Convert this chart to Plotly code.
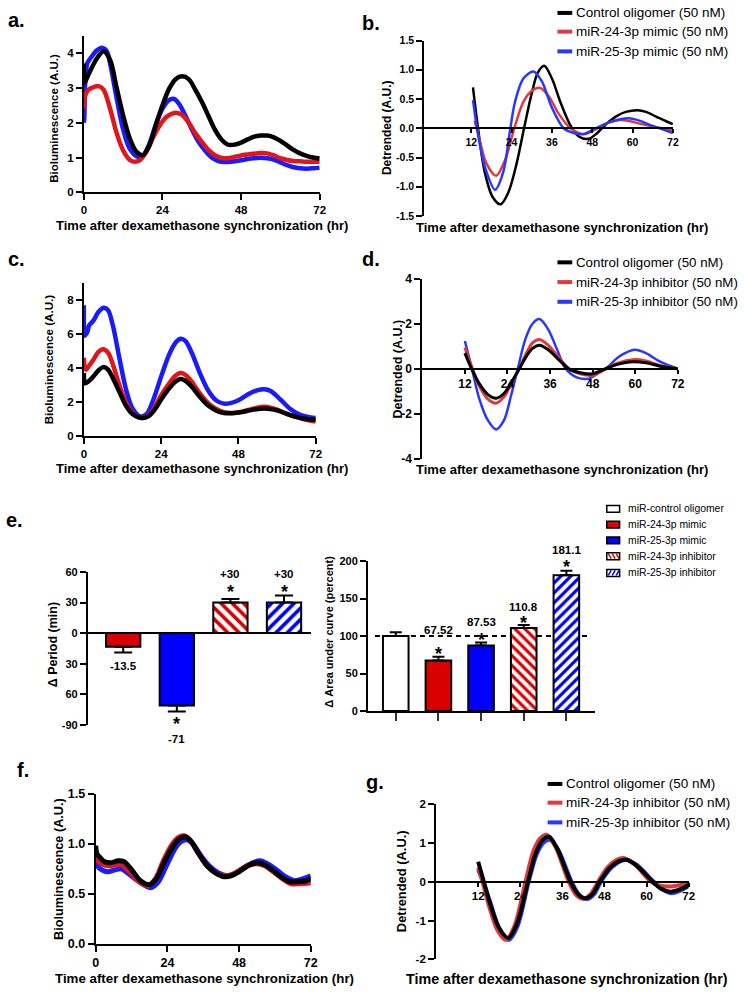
import plotly.graph_objects as go

W, H = 745, 998
FONT = "Arial, 'Liberation Sans', Helvetica, sans-serif"

BLACK = "#000000"
RED = "#E0161B"
BLUE = "#1A1AFF"
RED_D = "#E0383B"
BLUE_D = "#2638FF"
BAR_RED = "#D80000"
BAR_BLUE = "#0000FF"

# ---------------- data ----------------
x_title = "Time after dexamethasone synchronization (hr)"
biolum_title = "Bioluminescence (A.U.)"
detr_title = "Detrended (A.U.)"

legend_mimic = ["Control oligomer (50 nM)", "miR-24-3p mimic (50 nM)", "miR-25-3p mimic (50 nM)"]
legend_inhib = ["Control oligomer (50 nM)", "miR-24-3p inhibitor (50 nM)", "miR-25-3p inhibitor (50 nM)"]

# Panel a : bioluminescence, mimics
a_ctrl_t = [0, 0.2, 1, 2, 4, 6, 8, 10, 12, 14, 16, 18, 20, 22, 24, 26, 28, 30, 32, 34, 36, 38, 40, 42, 44, 46, 48, 50, 52, 54, 56, 58, 60, 62, 64, 66, 68, 70, 72]
a_ctrl_y = [3.7, 3.15, 3.3, 3.5, 3.85, 4.05, 3.8, 3.0, 2.2, 1.55, 1.17, 1.07, 1.35, 1.95, 2.5, 2.97, 3.25, 3.33, 3.25, 2.95, 2.6, 2.2, 1.8, 1.52, 1.37, 1.37, 1.43, 1.52, 1.6, 1.63, 1.63, 1.58, 1.48, 1.35, 1.22, 1.12, 1.05, 1.0, 0.97]
a_m24_t = [0, 0.3, 0.7, 1.5, 3, 4.5, 6, 8, 10, 12, 14, 15.5, 17, 19, 21, 23, 25, 27, 28.5, 30, 32, 34, 36, 38, 40, 42, 44, 46, 48, 51, 54, 56, 58, 60, 62, 64, 66, 68, 70, 72]
a_m24_y = [2.4, 2.75, 2.85, 2.95, 3.02, 3.05, 2.95, 2.4, 1.7, 1.2, 0.93, 0.88, 0.92, 1.15, 1.55, 1.9, 2.15, 2.26, 2.28, 2.22, 2.0, 1.7, 1.45, 1.22, 1.07, 0.99, 0.98, 1.02, 1.06, 1.1, 1.13, 1.12, 1.06, 0.98, 0.93, 0.9, 0.89, 0.88, 0.88, 0.88]
a_m25_t = [0, 0.15, 0.3, 0.6, 1, 2, 4, 5.5, 7, 8, 10, 12, 14, 16.5, 18, 20, 22, 24, 26, 27.5, 29, 31, 33, 35, 37, 39, 41, 43, 45, 48, 51, 54, 56, 58, 60, 62, 64, 66, 68, 70, 72]
a_m25_y = [2.0, 2.2, 3.0, 3.3, 3.7, 3.85, 4.08, 4.15, 4.05, 3.7, 2.7, 1.8, 1.25, 1.02, 1.05, 1.4, 1.95, 2.4, 2.65, 2.68, 2.55, 2.2, 1.8, 1.45, 1.2, 1.0, 0.9, 0.87, 0.88, 0.92, 0.97, 0.99, 0.98, 0.94, 0.86, 0.78, 0.72, 0.69, 0.68, 0.69, 0.71]

# Panel b : detrended, mimics
b_ctrl_t = [12.5, 14, 16, 18.3, 20.7, 23, 25.5, 27.7, 30, 31.8, 33.7, 36, 38.5, 41.5, 44, 46.9, 49.5, 52.3, 55, 58, 61.5, 64, 67, 70, 72]
b_ctrl_y = [0.70, 0.0, -0.75, -1.17, -1.30, -1.10, -0.6, 0.0, 0.6, 0.95, 1.07, 0.85, 0.45, 0.05, -0.14, -0.18, -0.08, 0.08, 0.2, 0.28, 0.31, 0.28, 0.2, 0.12, 0.07]
b_m24_t = [13, 14.5, 16.5, 19.4, 22, 24.8, 27.5, 30, 32.5, 35, 38, 41.5, 45.4, 49, 52, 56, 58.5, 62, 66, 72]
b_m24_y = [0.13, -0.2, -0.6, -0.81, -0.55, 0.0, 0.45, 0.64, 0.69, 0.55, 0.25, 0.0, -0.1, -0.02, 0.08, 0.14, 0.13, 0.08, 0.03, -0.04]
b_m25_t = [12.5, 14, 16, 19.1, 21.5, 23.5, 25, 27.5, 30.5, 33, 36, 39.5, 42.5, 45.5, 49, 53, 56, 59, 62, 66, 72]
b_m25_y = [0.48, -0.1, -0.65, -1.05, -0.75, -0.05, 0.45, 0.85, 0.97, 0.8, 0.35, 0.0, -0.08, -0.1, 0.0, 0.1, 0.15, 0.17, 0.13, 0.04, -0.08]

# Panel c : bioluminescence, inhibitors
c_ctrl_t = [0, 0.3, 1, 2.5, 4.5, 6, 7.5, 9, 11, 13, 15, 18, 20, 22, 24, 26.5, 28.5, 30, 31.5, 33.5, 36, 38.5, 41, 43.5, 46, 49, 52, 55, 57, 60, 63, 66, 69, 72]
c_ctrl_y = [3.7, 3.1, 3.15, 3.4, 3.85, 4.05, 3.9, 3.4, 2.6, 1.8, 1.3, 1.05, 1.15, 1.55, 2.15, 2.8, 3.2, 3.35, 3.25, 2.9, 2.3, 1.8, 1.5, 1.35, 1.33, 1.4, 1.52, 1.6, 1.6, 1.5, 1.3, 1.12, 1.0, 0.95]
c_i24_t = [0, 0.3, 0.7, 1.5, 3, 4.5, 6, 7.5, 9, 11, 13, 15, 18, 20, 22, 24, 26.5, 28.5, 30, 31.5, 33.5, 36, 38.5, 41, 43.5, 46, 49, 52, 55, 57, 60, 63, 66, 69, 72]
c_i24_y = [4.6, 4.0, 3.9, 4.1, 4.5, 4.95, 5.1, 4.9, 4.2, 3.0, 2.0, 1.35, 1.05, 1.2, 1.7, 2.4, 3.1, 3.55, 3.7, 3.6, 3.2, 2.5, 1.95, 1.6, 1.4, 1.35, 1.42, 1.58, 1.7, 1.7, 1.55, 1.3, 1.1, 0.95, 0.85]
c_i25_t = [0, 0.3, 0.7, 1.2, 1.6, 3, 4.5, 6.2, 7.5, 9, 11, 13, 15, 17.5, 19.5, 21.5, 24, 26.5, 28.5, 30, 31.5, 33.5, 36, 38.5, 41, 43.5, 45.5, 48, 51, 54, 56, 58, 61, 64, 67, 70, 72]
c_i25_y = [7.7, 5.9, 6.0, 6.2, 6.5, 6.8, 7.3, 7.55, 7.4, 6.5, 4.6, 2.8, 1.65, 1.15, 1.3, 2.1, 3.5, 4.8, 5.5, 5.72, 5.6, 4.9, 3.7, 2.7, 2.1, 1.9, 1.93, 2.1, 2.45, 2.7, 2.75, 2.65, 2.15, 1.6, 1.25, 1.1, 1.05]

# Panel d : detrended, inhibitors
d_ctrl_t = [12, 13.9, 16, 18.5, 20.8, 23, 25.3, 27.3, 29.5, 31, 33, 35.5, 38.5, 41.3, 44.5, 48, 51.5, 55, 59.4, 63, 67, 72]
d_ctrl_y = [0.70, 0.0, -0.65, -1.15, -1.31, -1.1, -0.55, 0.0, 0.6, 0.9, 1.05, 0.85, 0.4, 0.0, -0.17, -0.22, 0.0, 0.2, 0.32, 0.27, 0.12, 0.0]
d_i24_t = [12, 13.9, 16, 18.5, 20.8, 23, 25.3, 27.3, 29.5, 31, 33, 35.5, 38.5, 41.3, 44.5, 48, 51.5, 55, 59.4, 63, 67, 72]
d_i24_y = [0.95, 0.1, -0.75, -1.35, -1.53, -1.25, -0.6, 0.0, 0.75, 1.15, 1.31, 1.05, 0.5, 0.0, -0.22, -0.29, -0.02, 0.25, 0.41, 0.35, 0.15, 0.0]
d_i25_t = [12, 14, 16, 18.5, 20.8, 23, 25, 26.9, 29, 31, 33, 35.5, 38, 40.4, 43.5, 46.9, 49.5, 52, 55.5, 59.9, 63, 67, 72]
d_i25_y = [1.24, 0.0, -1.3, -2.3, -2.7, -2.3, -1.2, 0.0, 1.3, 2.0, 2.22, 1.75, 0.85, 0.0, -0.38, -0.44, -0.2, 0.05, 0.55, 0.85, 0.7, 0.32, 0.0]

# Panel e : period change and area under curve
e_groups = ["miR-control oligomer", "miR-24-3p mimic", "miR-25-3p mimic", "miR-24-3p inhibitor", "miR-25-3p inhibitor"]
period_groups = e_groups[1:]
period_vals = [-13.5, -71, 30, 30]
period_err = [5.5, 6, 3.5, 7]
period_text = ["-13.5", "-71", "+30", "+30"]
period_sig = [False, True, True, True]
auc_vals = [100, 67.52, 87.53, 110.8, 181.1]
auc_err = [5, 5, 4, 4, 6]
auc_text = ["", "67.52", "87.53", "110.8", "181.1"]
auc_sig = [False, True, True, True, True]
period_ticks = [-90, -60, -30, 0, 30, 60]
period_ticktext = ["-90", "60", "30", "0", "30", "60"]
auc_ticks = [0, 50, 100, 150, 200]

# Panel f : bioluminescence, inhibitors (second experiment)
f_ctrl_t = [0, 0.4, 1.5, 3, 5, 7.5, 9.5, 12, 15, 18, 20.5, 23, 26, 28, 30, 32, 34.5, 37, 40, 43, 45.5, 48, 51, 54, 56.5, 59, 62, 65, 68, 70.5, 72]
f_ctrl_y = [0.98, 0.9, 0.86, 0.82, 0.81, 0.83, 0.82, 0.74, 0.63, 0.59, 0.66, 0.82, 0.98, 1.05, 1.07, 1.02, 0.9, 0.79, 0.71, 0.67, 0.68, 0.72, 0.78, 0.81, 0.79, 0.74, 0.67, 0.62, 0.62, 0.63, 0.65]
f_i24_t = [0, 0.5, 2, 4, 6.5, 8.5, 11, 14.5, 17.5, 20, 22.5, 25.5, 27.5, 29.5, 31.5, 34, 37, 40, 43, 45.5, 48.5, 51.5, 54, 56.5, 59.5, 62.5, 65.5, 68.5, 72]
f_i24_y = [0.93, 0.84, 0.8, 0.78, 0.79, 0.79, 0.73, 0.62, 0.58, 0.65, 0.82, 0.99, 1.06, 1.08, 1.04, 0.92, 0.79, 0.71, 0.68, 0.69, 0.74, 0.79, 0.8, 0.78, 0.72, 0.65, 0.6, 0.6, 0.61]
f_i25_t = [0, 0.5, 2, 4, 6.5, 8.5, 11, 14.5, 18.5, 21, 23.5, 26.5, 28.5, 30.5, 32.5, 35, 38, 41, 44, 46.5, 49.5, 52.5, 55, 57.5, 60.5, 63.5, 66.5, 69.5, 72]
f_i25_y = [0.85, 0.78, 0.74, 0.72, 0.74, 0.75, 0.7, 0.62, 0.56, 0.62, 0.77, 0.95, 1.02, 1.04, 1.0, 0.89, 0.78, 0.71, 0.68, 0.7, 0.76, 0.81, 0.83, 0.8, 0.74, 0.67, 0.63, 0.65, 0.68]

# Panel g : detrended, inhibitors (second experiment)
g_ctrl_t = [12, 13.6, 15.5, 18, 20.6, 23, 26.2, 28.5, 30.5, 32.2, 34.5, 38.3, 40.5, 42.5, 44.5, 46.7, 49.5, 52, 54.2, 57, 61.7, 64, 66.8, 69.5, 72]
g_ctrl_y = [0.51, 0.0, -0.6, -1.2, -1.45, -1.1, 0.0, 0.75, 1.08, 1.15, 0.85, 0.0, -0.33, -0.43, -0.33, 0.0, 0.35, 0.52, 0.56, 0.42, 0.0, -0.18, -0.26, -0.2, -0.09]
g_i24_t = [12, 13.2, 15, 17.5, 19.9, 22.3, 25.5, 27.8, 29.8, 31.6, 34, 37.8, 40, 42, 44, 46.2, 49, 51.5, 53.7, 56.5, 61.2, 63.5, 66.4, 69, 72]
g_i24_y = [0.36, 0.0, -0.6, -1.25, -1.5, -1.15, 0.0, 0.8, 1.12, 1.2, 0.9, 0.0, -0.35, -0.44, -0.33, 0.0, 0.38, 0.56, 0.6, 0.45, 0.0, -0.1, -0.13, -0.1, -0.04]
g_i25_t = [12, 13.6, 15.5, 18, 20.7, 23.2, 26.4, 28.7, 30.7, 32.5, 34.8, 38.6, 41, 43, 45, 47, 50, 52.5, 54.6, 57.3, 62, 64.5, 67, 69.5, 72]
g_i25_y = [0.3, -0.05, -0.55, -1.2, -1.5, -1.15, 0.0, 0.7, 1.0, 1.07, 0.82, 0.0, -0.36, -0.45, -0.33, 0.0, 0.36, 0.52, 0.55, 0.42, 0.0, -0.2, -0.3, -0.24, -0.12]

time_ticks = [0, 24, 48, 72]
detr_ticks = [12, 24, 36, 48, 60, 72]

# ---------------- layout helpers ----------------
def xd(l, r):
    return [l / W, r / W]

def yd(top, bottom):
    return [1 - bottom / H, 1 - top / H]

def tfont(size):
    return dict(family=FONT, size=size, color="black", weight="bold")

def fmt(v):
    return str(int(v)) if float(v).is_integer() else str(v)

def fmt1(v):
    return f"{v:.1f}"

def axis(dom, rng, tickvals, size, ticktext=None, **kw):
    d = dict(domain=dom, range=rng, showline=True, linecolor="black", linewidth=2,
             ticks="outside", ticklen=6, tickwidth=2, tickcolor="black",
             showgrid=False, zeroline=False, tickfont=tfont(size),
             tickvals=tickvals, fixedrange=True)
    d["ticktext"] = ticktext if ticktext is not None else [fmt(v) for v in tickvals]
    d.update(kw)
    return d

def zero_pos(rng, dom):
    return dom[0] + (0 - rng[0]) / (rng[1] - rng[0]) * (dom[1] - dom[0])

fig = go.Figure()

def curve(t, y, color, width, ax):
    fig.add_trace(go.Scatter(x=t, y=y, mode="lines",
                             line=dict(color=color, width=width, shape="spline", smoothing=0.9),
                             xaxis="x" + ax, yaxis="y" + ax, showlegend=False, hoverinfo="skip"))

def text(s, px, py, size, bold=True, angle=0, xanchor="center", yanchor="middle"):
    fig.add_annotation(x=px / W, y=1 - py / H, xref="paper", yref="paper", text=s,
                       showarrow=False, textangle=angle, xanchor=xanchor, yanchor=yanchor,
                       font=dict(family=FONT, size=size, color="black",
                                 weight="bold" if bold else "normal"))

# ---------------- axes ----------------
lay = {}
lay["xaxis"] = axis(xd(82, 321), [0, 72], time_ticks, 11.5, anchor="y")
lay["yaxis"] = axis(yd(29, 188), [0, 4.5], [0, 1, 2, 3, 4], 11.5, anchor="x")

b_rng, b_dom = [-1.5, 1.5], yd(34, 212)
b_yt = [-1.5, -1.0, -0.5, 0.0, 0.5, 1.0, 1.5]
lay["xaxis2"] = axis(xd(427, 679), [-2, 72], detr_ticks, 10.5, anchor="free",
                     position=zero_pos(b_rng, b_dom), ticklen=4)
lay["yaxis2"] = axis(b_dom, b_rng, b_yt, 10.5, ticktext=[fmt1(v) for v in b_yt], anchor="x2")

lay["xaxis3"] = axis(xd(82, 317), [0, 72], time_ticks, 11.5, anchor="y3")
lay["yaxis3"] = axis(yd(280, 435), [0, 9], [0, 2, 4, 6, 8], 11.5, anchor="x3")

d_rng, d_dom = [-4, 4], yd(276, 458)
lay["xaxis4"] = axis(xd(425, 684), [0, 72], detr_ticks, 12, anchor="free",
                     position=zero_pos(d_rng, d_dom), ticklen=4)
lay["yaxis4"] = axis(d_dom, d_rng, [-4, -2, 0, 2, 4], 12, anchor="x4")

e1_rng, e1_dom = [-90, 60], yd(573, 728)
lay["xaxis5"] = dict(domain=xd(86, 312), range=[-0.66, 3.5], anchor="free",
                     position=zero_pos(e1_rng, e1_dom), showline=True, linecolor="black",
                     linewidth=2, ticks="", showticklabels=False, showgrid=False,
                     zeroline=False, fixedrange=True, type="category",
                     categoryorder="array", categoryarray=period_groups)
lay["yaxis5"] = axis(e1_dom, e1_rng, period_ticks, 11, ticktext=period_ticktext, anchor="x5")

lay["xaxis6"] = dict(domain=xd(370, 600), range=[-0.65, 4.67], anchor="y6", showline=True,
                     linecolor="black", linewidth=2, ticks="outside", ticklen=8, tickwidth=1.5,
                     tickcolor="#333", showticklabels=False, showgrid=False, zeroline=False,
                     fixedrange=True, type="category",
                     categoryorder="array", categoryarray=e_groups)
lay["yaxis6"] = axis(yd(562, 714), [0, 200], auc_ticks, 11, anchor="x6")

f_yt = [0, 0.5, 1.0, 1.5]
lay["xaxis7"] = axis(xd(94, 312), [0, 72], time_ticks, 12.5, anchor="y7")
lay["yaxis7"] = axis(yd(798, 950), [0, 1.5], f_yt, 12.5, ticktext=[fmt1(v) for v in f_yt], anchor="x7")

g_rng, g_dom = [-2, 2], yd(808, 966)
lay["xaxis8"] = axis(xd(439, 695), [0, 72], detr_ticks, 11.5, anchor="free",
                     position=zero_pos(g_rng, g_dom), ticklen=4)
lay["yaxis8"] = axis(g_dom, g_rng, [-2, -1, 0, 1, 2], 11.5, anchor="x8")

# ---------------- curves ----------------
curve(a_m25_t, a_m25_y, BLUE, 4.5, "")
curve(a_m24_t, a_m24_y, RED, 4.5, "")
curve(a_ctrl_t, a_ctrl_y, BLACK, 4.5, "")

curve(b_ctrl_t, b_ctrl_y, BLACK, 2.5, "2")
curve(b_m24_t, b_m24_y, RED_D, 2.5, "2")
curve(b_m25_t, b_m25_y, BLUE_D, 2.5, "2")

curve(c_i25_t, c_i25_y, BLUE, 4.5, "3")
curve(c_i24_t, c_i24_y, RED, 4.5, "3")
curve(c_ctrl_t, c_ctrl_y, BLACK, 4.5, "3")

curve(d_i25_t, d_i25_y, BLUE_D, 2.5, "4")
curve(d_i24_t, d_i24_y, RED_D, 3, "4")
curve(d_ctrl_t, d_ctrl_y, BLACK, 3, "4")

curve(f_i25_t, f_i25_y, BLUE, 5, "7")
curve(f_i24_t, f_i24_y, RED, 5, "7")
curve(f_ctrl_t, f_ctrl_y, BLACK, 5, "7")

curve(g_i25_t, g_i25_y, BLUE_D, 4, "8")
curve(g_i24_t, g_i24_y, RED_D, 4, "8")
curve(g_ctrl_t, g_ctrl_y, BLACK, 4, "8")

# ---------------- bars (one trace per bar) ----------------
fills = ["white", BAR_RED, BAR_BLUE, "white", "white"]
fgs = ["black", BAR_RED, BAR_BLUE, BAR_RED, BAR_BLUE]
pats = ["", "", "", "\\", "/"]

def bar(xcat, val, err, fill, fg, pat, width, size, cap, xa, ya):
    marker = dict(color=fill if not pat else fg, line=dict(color="black", width=2))
    if pat:
        marker["pattern"] = dict(shape=pat, fgcolor=fg, bgcolor="white", size=size,
                                 solidity=0.45, fillmode="replace")
    fig.add_trace(go.Bar(
        x=[xcat], y=[val], width=width, xaxis=xa, yaxis=ya, marker=marker,
        error_y=dict(type="data", symmetric=False,
                     array=[err if val > 0 else 0], arrayminus=[err if val < 0 else 0],
                     thickness=2, width=cap, color="black"),
        showlegend=False, hoverinfo="skip"))

for i, (g, v, e) in enumerate(zip(period_groups, period_vals, period_err)):
    bar(g, v, e, fills[i + 1], fgs[i + 1], pats[i + 1], 0.64, 8, 9, "x5", "y5")
for i, (g, v, e) in enumerate(zip(e_groups, auc_vals, auc_err)):
    bar(g, v, e, fills[i], fgs[i], pats[i], 0.6, 7, 6, "x6", "y6")

fig.update_layout(barmode="overlay")

# ---------------- shapes ----------------
shapes = []
shapes.append(dict(type="line", xref="paper", yref="y6", x0=377 / W, x1=596 / W,
                   y0=auc_vals[0], y1=auc_vals[0], layer="below",
                   line=dict(color="black", width=2, dash="5px,4px")))

def legend_lines(names, colors, x0, x1, xt, rows, size):
    for name, col, ry in zip(names, colors, rows):
        shapes.append(dict(type="line", xref="paper", yref="paper", x0=x0 / W, x1=x1 / W,
                           y0=1 - ry / H, y1=1 - ry / H, line=dict(color=col, width=4)))
        text(name, xt, ry, size, bold=False, xanchor="left")

legend_lines(legend_mimic, [BLACK, RED_D, BLUE_D], 562, 577, 579, [6, 25, 45], 13.5)
legend_lines(legend_inhib, [BLACK, RED_D, BLUE_D], 562, 577, 579, [259, 279, 299], 13.3)
legend_lines(legend_inhib, [BLACK, RED_D, BLUE_D], 552, 567, 569, [788, 807, 827], 13.5)

e_rows = [509, 525, 541, 557, 574]
for name, fill, fg, pat, ry in zip(e_groups, fills, fgs, pats, e_rows):
    bx0, bx1, by0, by1 = 612, 625, ry - 3.5, ry + 3.5
    shapes.append(dict(type="rect", xref="paper", yref="paper", x0=bx0 / W, x1=bx1 / W,
                       y0=1 - by1 / H, y1=1 - by0 / H, fillcolor=fill,
                       line=dict(color="black", width=1.5)))
    if pat:
        segs = []
        for k in range(3):
            sx = bx0 + 1.5 + k * 4
            if pat == "\\":
                segs.append(f"M{sx / W},{1 - (by0 + 1) / H} L{(sx + 3) / W},{1 - (by1 - 1) / H}")
            else:
                segs.append(f"M{sx / W},{1 - (by1 - 1) / H} L{(sx + 3) / W},{1 - (by0 + 1) / H}")
        shapes.append(dict(type="path", xref="paper", yref="paper", path=" ".join(segs),
                           line=dict(color=fg, width=1.5)))
    text(name, 631, ry, 10.4, bold=False, xanchor="left")

fig.update_layout(shapes=shapes)

# ---------------- bar annotations ----------------
def bar_note(s, xcat, yval, shift, size, xa, ya):
    fig.add_annotation(x=xcat, y=yval, xref=xa, yref=ya, text=s, showarrow=False,
                       yshift=shift, yanchor="middle",
                       font=dict(family=FONT, size=size, color="black", weight="bold"))

inh_top = max(v + e for v, e in zip(period_vals, period_err) if v > 0)
for g, v, e, s, sig in zip(period_groups, period_vals, period_err, period_text, period_sig):
    if v < 0:
        end = v - e
        if sig:
            bar_note("*", g, end, -12, 18, "x5", "y5")
            bar_note(s, g, end, -27, 11.5, "x5", "y5")
        else:
            bar_note(s, g, end, -13.5, 11.5, "x5", "y5")
    else:
        bar_note(s, g, inh_top, 21, 11.5, "x5", "y5")
        if sig:
            bar_note("*", g, inh_top, 3, 18, "x5", "y5")

auc_label_shift = [0, 27, 20, 18, 21]
auc_star_shift = [0, 3, 2, 2, 4]
for g, v, e, s, sig, ls, ss in zip(e_groups, auc_vals, auc_err, auc_text, auc_sig,
                                   auc_label_shift, auc_star_shift):
    top = v + e
    if s:
        bar_note(s, g, top, ls, 11.5, "x6", "y6")
    if sig:
        bar_note("*", g, top, ss, 18, "x6", "y6")

# ---------------- titles & panel labels ----------------
for cx, cy, size in [(202, 222, 13), (567, 224, 13), (202, 468, 13), (567, 469, 13),
                     (204, 985, 13.3), (572, 986, 14.3)]:
    text(x_title, cx, cy, size)

text(biolum_title, 52, 113, 11.5, angle=-90)
text(biolum_title, 47, 357, 11.6, angle=-90)
text(biolum_title, 57, 874, 12.7, angle=-90)
text(detr_title, 390, 122, 12, angle=-90)
text(detr_title, 400, 367, 12.5, angle=-90)
text(detr_title, 404, 887, 12.9, angle=-90)
text("Δ Period (min)", 51, 647, 12.5, angle=-90)
text("Δ Area under curve (percent)", 331, 634, 11, angle=-90)

for lab, px, py in [("a.", 3, 13), ("b.", 362, 16), ("c.", 3, 256), ("d.", 362, 256),
                    ("e.", 1, 520), ("f.", 12, 774), ("g.", 366, 786)]:
    text(lab, px, py, 20, xanchor="left")

fig.update_layout(width=W, height=H, margin=dict(l=0, r=0, t=0, b=0),
                  paper_bgcolor="white", plot_bgcolor="rgba(0,0,0,0)",
                  showlegend=False, font=dict(family=FONT, color="black"), **lay)

fig.write_html("out.html", config={"displayModeBar": False},
               post_script="document.body.style.margin='0';document.body.style.padding='0';")
